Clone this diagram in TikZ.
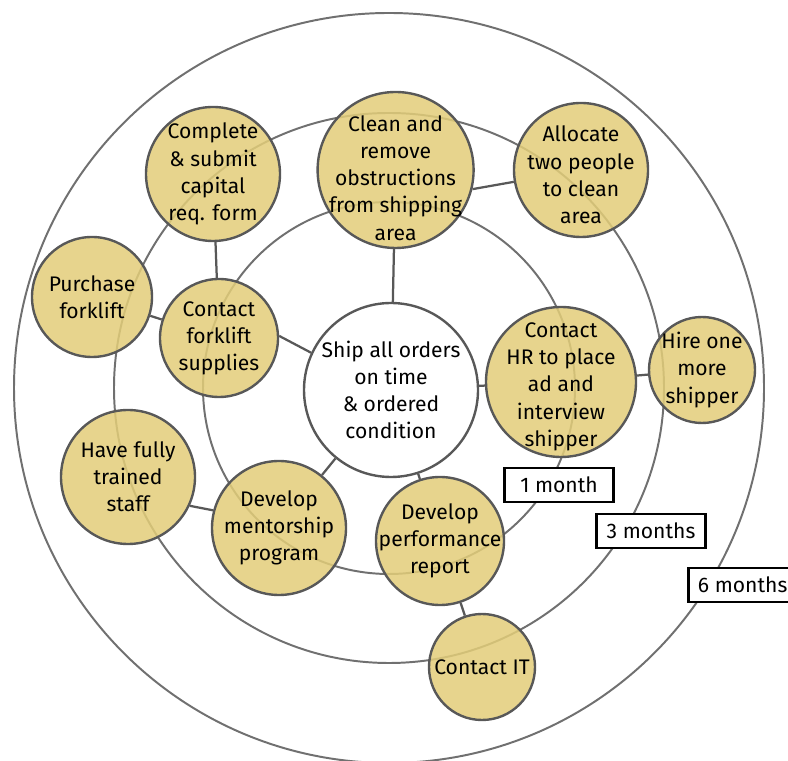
\documentclass[tikz,border=0pt]{standalone}
\usepackage{fontspec}
\setmainfont{Fira Sans}
\usepackage{xcolor}
\usetikzlibrary{positioning}
\definecolor{GoldFill}{RGB}{227,205,121}
\definecolor{RingGray}{RGB}{112,112,112}
\definecolor{EdgeGray}{RGB}{88,88,88}

\begin{document}
\begin{tikzpicture}[
  font=\fontsize{15}{19.3}\selectfont,
  ring/.style={draw=RingGray, line width=1.4pt},
  task/.style={circle, draw=EdgeGray, line width=1.7pt, fill=GoldFill,
               fill opacity=0.85, inner sep=0pt},
  goal/.style={task, fill=white, fill opacity=1},
  words/.style={align=center, text opacity=1, fill opacity=1},
  tag/.style={rectangle, draw=black, line width=1.8pt, fill=white,
              minimum width=2.72cm, minimum height=0.86cm, inner sep=0pt},
  link/.style={draw=EdgeGray, line width=1.6pt}
]
\useasboundingbox (0,0) rectangle (19.7,19);

% time horizons
\coordinate (hub) at (9.725,9.3);
\draw[ring] (hub) circle (4.65);
\draw[ring] (hub) circle (6.875);
\draw[ring] (hub) circle (9.375);

% tasks
\node[goal, minimum size=4.35cm,
  label={[words]center:Ship all orders\\on time\\\& ordered\\condition}]
  (ship) at (9.775,9.25) {};
\node[task, minimum size=3.9cm,
  label={[words, yshift=-0.2cm]center:Clean and\\remove\\obstructions\\from shipping\\area}]
  (clean) at (9.89,14.75) {};
\node[task, minimum size=3.35cm,
  label={[words]center:Complete\\\& submit\\capital\\req. form}]
  (complete) at (5.325,14.65) {};
\node[task, minimum size=3.0cm,
  label={[words]center:Purchase\\forklift}]
  (purchase) at (2.3,11.575) {};
\node[task, minimum size=2.95cm,
  label={[words]center:Contact\\forklift\\supplies}]
  (forklift) at (5.475,10.55) {};
\node[task, minimum size=3.35cm,
  label={[words, yshift=-0.12cm]center:Allocate\\two people\\to clean\\area}]
  (allocate) at (14.525,14.75) {};
\node[task, minimum size=3.75cm,
  label={[words, yshift=-0.12cm]center:Contact\\HR to place\\ad and\\interview\\shipper}]
  (hr) at (14.025,9.45) {};
\node[task, minimum size=2.65cm,
  label={[words]center:Hire one\\more\\shipper}]
  (hire) at (17.55,9.75) {};
\node[task, minimum size=3.35cm,
  label={[words]center:Have fully\\trained\\staff}]
  (staff) at (3.2,7.075) {};
\node[task, minimum size=3.35cm,
  label={[words]center:Develop\\mentorship\\program}]
  (mentor) at (6.975,5.8) {};
\node[task, minimum size=3.2cm,
  label={[words]center:Develop\\performance\\report}]
  (perf) at (11.0,5.475) {};
\node[task, minimum size=2.65cm,
  label={[words]center:Contact IT}]
  (it) at (12.05,2.325) {};

% horizon labels
\node[tag] (m1) at (13.975,6.875) {1 month};
\node[tag] (m3) at (16.275,5.725) {3 months};
\node[tag, anchor=west] (m6) at (17.175,4.375) {6 months};

% links
\draw[link] (ship) -- (clean);
\draw[link] (clean.-14) -- (allocate.190);
\draw[link] (complete) -- (forklift);
\draw[link] (purchase) -- (forklift);
\draw[link] (forklift.2) -- (ship.155);
\draw[link] (ship) -- (hr);
\draw[link] (hr) -- (hire);
\draw[link] (ship) -- (mentor);
\draw[link] (staff.-25) -- (mentor.165);
\draw[link] (ship) -- (perf);
\draw[link] (perf) -- (it);

\end{tikzpicture}
\end{document}
